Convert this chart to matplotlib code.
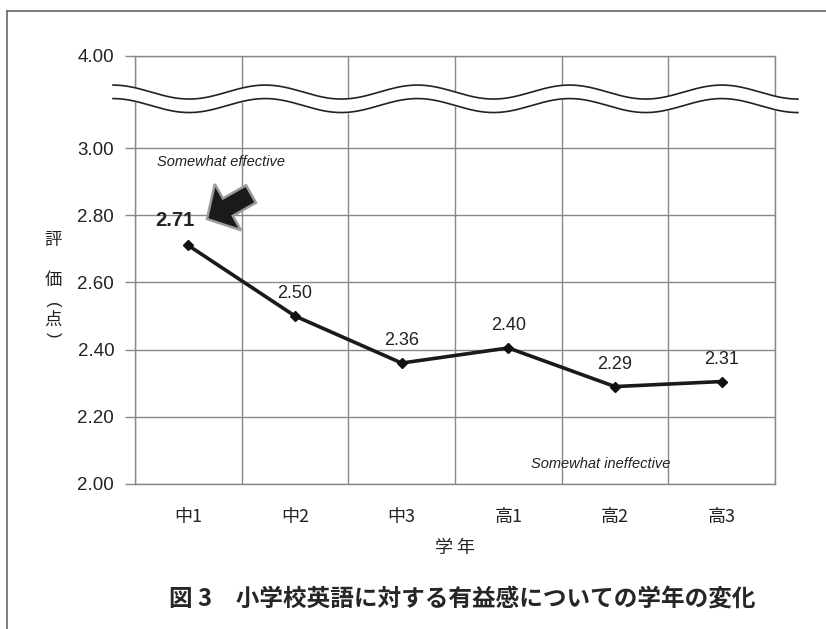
import numpy as np
import matplotlib
matplotlib.use("Agg")
import matplotlib.pyplot as plt
from matplotlib.lines import Line2D
from matplotlib.patches import FancyArrow

plt.rcParams['font.family'] = ['Liberation Sans', 'Noto Sans CJK JP', 'DejaVu Sans']
JP = ['Noto Sans CJK JP', 'DejaVu Sans']

grades = ["中1", "中2", "中3", "高1", "高2", "高3"]
scores = [2.71, 2.50, 2.36, 2.405, 2.29, 2.305]
score_labels = ["2.71", "2.50", "2.36", "2.40", "2.29", "2.31"]
ytick_vals = [2.0, 2.2, 2.4, 2.6, 2.8, 3.0]
ytick_text = ["2.00", "2.20", "2.40", "2.60", "2.80", "3.00", "4.00"]
Y_TOP = 3.274  # where the "4.00" line sits after the axis break

fig = plt.figure(figsize=(8.26, 6.29), dpi=100)
ax = fig.add_axes([135/826, 1-484/629, 640/826, 428/629])

x = np.arange(len(grades))
ax.plot(x, scores, "-", color="#1a1a1a", lw=2.6, zorder=5)
ax.plot(x, scores, "D", color="#111", ms=5, zorder=6)

ax.set_xlim(-0.5, 5.5)
ax.set_ylim(2.0, Y_TOP)
ax.set_yticks(ytick_vals + [Y_TOP])
ax.set_yticklabels(ytick_text, fontsize=13.5, color="#222")
ax.set_xticks(x)
ax.set_xticklabels(grades, fontsize=13, family=JP, color="#222")
ax.set_xticks(np.arange(-0.5, 6, 1), minor=True)
ax.tick_params(axis="x", which="both", length=0, pad=17)
ax.tick_params(axis="y", length=7, color="#888", width=1, pad=8)
ax.grid(True, axis="y", color="#888", lw=1)
ax.grid(True, axis="x", which="minor", color="#888", lw=1)
ax.grid(False, axis="x", which="major")
for s in ax.spines.values():
    s.set_color("#888"); s.set_linewidth(1)

# data labels
for i, (v, t) in enumerate(zip(scores, score_labels)):
    if i == 0:
        ax.annotate(t, (i, v), xytext=(-10, 18), textcoords="offset points",
                    ha="center", va="center", fontsize=14.5, fontweight="bold", color="#222")
    else:
        ax.annotate(t, (i, v), xytext=(0, 16), textcoords="offset points",
                    ha="center", va="center", fontsize=13, color="#222")

ax.text(22/640, (484-162)/428, "Somewhat effective", transform=ax.transAxes,
        fontsize=10.5, style="italic", color="#222", va="center")
ax.text(396/640, (484-464)/428, "Somewhat ineffective", transform=ax.transAxes,
        fontsize=10.5, style="italic", color="#222", va="center")

# block arrow pointing at the first point (drawn in figure inches)
arrow = FancyArrow(2.51, 6.29-1.94, -0.44, -0.25, width=0.20, head_width=0.53,
                   head_length=0.24, length_includes_head=True,
                   transform=fig.dpi_scale_trans, fc="#1a1a1a", ec="#9a9a9a", lw=1.8,
                   joinstyle="miter", zorder=7)
fig.add_artist(arrow)

# axis break (wavy double line)
xw = np.linspace(-0.706, 5.715, 400)
px = (xw + 0.5) * 640/6 + 135
ppu = 336.0
up = 3 + (148 - (92 - 7*np.cos(np.pi*(px-113)/76.1))) / ppu
lo = up - 13.5/ppu
fb = ax.fill_between(xw, lo, up, color="white", zorder=3)
fb.set_clip_on(False)
ax.plot(xw, up, color="#222", lw=1.2, zorder=4, clip_on=False)
ax.plot(xw, lo, color="#222", lw=1.2, zorder=4, clip_on=False)

# y label stacked vertically
for ch, yy in [("評", 240), ("価", 280), ("点", 320)]:
    fig.text(53/826, 1-yy/629, ch, family=JP, fontsize=12.5, ha="center", va="center", color="#222")
for ch, yy in [("(", 305), (")", 335)]:
    fig.text(53/826, 1-yy/629, ch, fontsize=12, rotation=-90, ha="center", va="center", color="#222")

fig.text(455/826, 1-548/629, "学 年", family=JP, fontsize=13, ha="center", va="center", color="#222")
fig.text(462/826, 1-600/629, "図 3　小学校英語に対する有益感についての学年の変化", family=JP,
         fontsize=17, fontweight="bold", ha="center", va="center", color="#262626")

# partial frame
fig.add_artist(Line2D([7/826, 7/826], [0, 1-11/629], color="#666", lw=1.2))
fig.add_artist(Line2D([7/826, 1], [1-11/629, 1-11/629], color="#666", lw=1.2))

fig.savefig("out.png", dpi=100)
